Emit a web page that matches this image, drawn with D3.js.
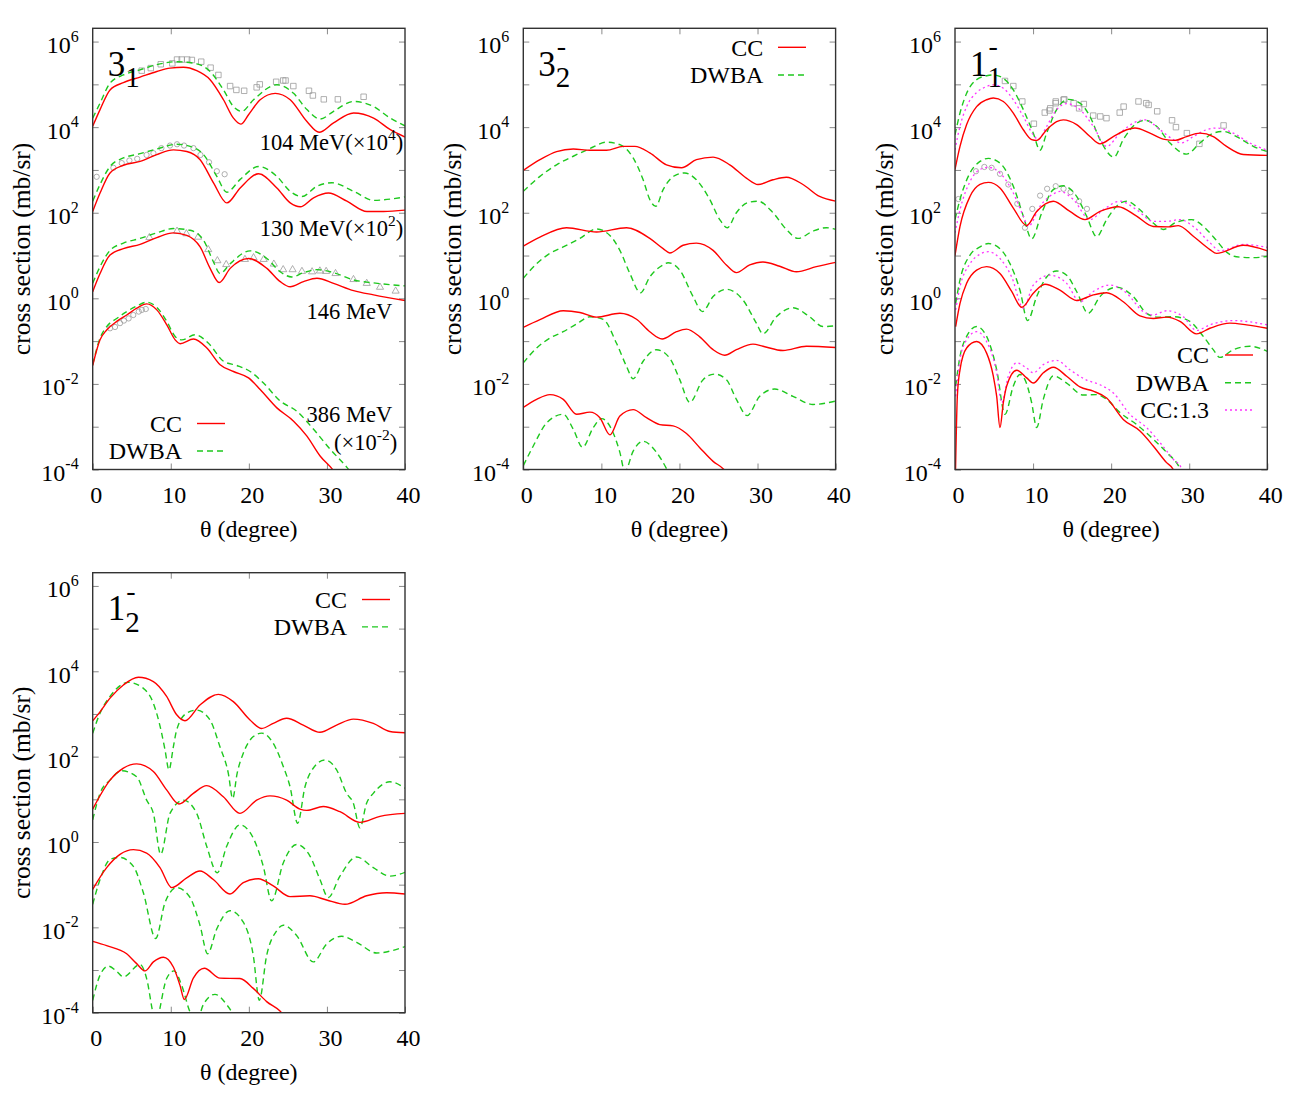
<!DOCTYPE html>
<html>
<head>
<meta charset="utf-8">
<script src="https://cdn.jsdelivr.net/npm/d3@7"></script>
<style>
  body { margin: 0; background: #fff; }
  svg { font-family: "Liberation Serif", "Times New Roman", serif; }
</style>
</head>
<body>
<div id="chart"></div>
<script>
// values are [theta (degree), log10 of cross section (mb/sr)]

// ---- 3_1^- ----
const s31_104_cc = [[0,4.02],[0.94,4.41],[2.22,4.87],[3.93,5.04],[6.07,5.17],[8.21,5.30],[9.91,5.38],[11.62,5.40],[13.33,5.32],[15.04,5.11],[16.75,4.64],[18.03,4.21],[18.97,4.07],[19.96,4.29],[21.45,4.64],[23.38,4.79],[25.3,4.64],[27.44,4.13],[29.0,3.88],[30.85,4.10],[33.42,4.33],[35.98,4.21],[38.12,3.94],[40,3.77]];
const s31_104_dw = [[0,4.21],[0.94,4.56],[2.22,5.03],[3.93,5.22],[6.07,5.34],[8.21,5.46],[10.77,5.53],[13.33,5.48],[15.04,5.30],[16.75,4.87],[18.03,4.48],[19.1,4.37],[20.6,4.64],[23.59,4.99],[25.73,4.79],[27.44,4.41],[29.15,4.19],[30.85,4.37],[33.42,4.60],[35.98,4.48],[38.12,4.21],[40,4.03]];
const s31_130_cc = [[0,2.03],[0.94,2.46],[2.22,2.93],[3.93,3.11],[6.07,3.20],[8.21,3.36],[10.34,3.47],[12.05,3.43],[13.76,3.24],[15.47,2.70],[17.18,2.23],[18.89,2.58],[21.24,2.91],[23.59,2.58],[25.3,2.23],[26.58,2.14],[28.29,2.35],[30.2,2.46],[32.56,2.27],[35.13,2.03],[37.26,2.03],[40,2.06]];
const s31_130_dw = [[0,2.27],[0.94,2.66],[2.22,3.08],[3.93,3.28],[6.07,3.38],[8.21,3.49],[10.77,3.60],[12.48,3.55],[14.19,3.36],[15.9,2.85],[17.18,2.48],[18.89,2.78],[21.24,3.08],[23.59,2.85],[25.3,2.50],[26.8,2.38],[28.72,2.62],[30.64,2.70],[33.42,2.50],[35.98,2.29],[40,2.37]];
const s31_146_cc = [[0,0.155],[0.94,0.58],[2.22,1.01],[3.93,1.16],[6.07,1.26],[8.21,1.42],[10.34,1.53],[12.05,1.47],[13.76,1.20],[15.04,0.70],[16.2,0.37],[17.61,0.70],[19.96,0.93],[22.31,0.70],[24.02,0.39],[25.3,0.27],[27.0,0.39],[28.72,0.47],[30.85,0.35],[33.42,0.18],[35.98,0.08],[40,-0.05]];
const s31_146_dw = [[0,0.35],[0.94,0.74],[2.22,1.12],[3.93,1.29],[6.07,1.40],[8.21,1.53],[10.34,1.63],[12.48,1.59],[14.19,1.36],[15.47,0.85],[16.32,0.58],[17.61,0.81],[20.17,1.11],[22.31,0.93],[24.02,0.62],[25.5,0.50],[27.0,0.60],[28.72,0.67],[30.85,0.60],[33.42,0.43],[35.98,0.36],[40,0.29]];
const s31_386_cc = [[0,-1.57],[0.94,-0.97],[1.79,-0.74],[3.08,-0.54],[4.36,-0.39],[5.64,-0.23],[6.92,-0.13],[8.21,-0.27],[9.49,-0.62],[10.56,-0.97],[11.2,-1.06],[12.91,-0.95],[14.62,-1.16],[16.32,-1.55],[18.03,-1.71],[19.96,-1.86],[21.45,-2.13],[23.59,-2.56],[25.73,-2.87],[27.44,-3.22],[29.15,-3.69],[30.64,-3.98],[32,-4.3]];
const s31_386_dw = [[0,-1.55],[0.94,-0.93],[1.79,-0.66],[3.08,-0.47],[4.36,-0.31],[5.64,-0.18],[6.92,-0.09],[8.21,-0.21],[9.49,-0.54],[10.56,-0.89],[11.41,-0.97],[13.12,-0.85],[14.83,-1.05],[16.75,-1.47],[18.46,-1.57],[20.17,-1.71],[21.88,-1.98],[24.02,-2.40],[26.15,-2.64],[28.29,-3.06],[30.43,-3.53],[32.56,-3.95],[34,-4.3]];
const exp31_104 = [[6.28,5.32],[7.44,5.38],[8.72,5.47],[10.2,5.49],[10.8,5.58],[11.4,5.58],[12.1,5.58],[12.7,5.57],[13.9,5.53],[15.1,5.39],[16.1,5.22],[17.6,4.96],[18.4,4.87],[19.4,4.85],[21.0,4.93],[21.4,5.00],[23.5,5.06],[24.4,5.09],[24.7,5.09],[25.7,4.96],[27.7,4.85],[28.2,4.74],[29.6,4.65],[31.4,4.65],[34.7,4.71]];
const exp31_130 = [[0.51,2.84],[2.65,3.05],[3.72,3.16],[4.7,3.22],[5.7,3.26],[6.9,3.35],[7.78,3.39],[8.8,3.51],[9.9,3.57],[10.8,3.60],[11.7,3.57],[12.9,3.51],[13.8,3.35],[14.9,3.18],[15.9,2.97],[16.9,2.90]];
const exp31_146 = [[7.26,1.42],[10.8,1.57],[12.0,1.51],[13.5,1.43],[14.8,1.14],[15.97,0.88],[17.1,0.79],[19.5,0.91],[20.6,0.95],[21.9,0.91],[23.2,0.80],[24.4,0.67],[25.6,0.67],[26.8,0.63],[28.1,0.62],[29.1,0.64],[29.9,0.63],[31.1,0.58],[33.4,0.44],[35.1,0.35],[36.8,0.26],[38.8,0.17]];
const exp31_386 = [[2.22,-0.70],[2.86,-0.67],[3.5,-0.58],[4.0,-0.52],[4.6,-0.47],[5.2,-0.39],[5.9,-0.31],[6.3,-0.27],[6.8,-0.25]];

// ---- 3_2^- ----
const s32_a_cc = [[0,2.99],[2.13,3.24],[4.26,3.43],[6.4,3.49],[8.53,3.46],[10.66,3.46],[12.79,3.55],[14.29,3.55],[16.2,3.40],[18.34,3.12],[20.26,3.05],[22.17,3.24],[24.31,3.30],[26.44,3.12],[28.57,2.81],[30.06,2.66],[31.98,2.77],[33.69,2.83],[35.82,2.66],[37.95,2.38],[40,2.27]];
const s32_a_dw = [[0,2.50],[2.13,2.85],[4.26,3.12],[6.4,3.32],[8.53,3.50],[10.66,3.65],[12.37,3.59],[14.07,3.28],[15.35,2.77],[16.2,2.31],[16.97,2.15],[17.91,2.54],[19.4,2.87],[20.68,2.93],[22.17,2.77],[23.88,2.31],[25.16,1.84],[26.14,1.65],[27.29,2.00],[28.78,2.24],[30.06,2.27],[31.98,2.00],[33.69,1.61],[35.18,1.40],[37.1,1.57],[38.81,1.65],[40,1.61]];
const s32_b_cc = [[0,1.22],[2.13,1.43],[5.54,1.65],[9.38,1.55],[13.22,1.65],[16.2,1.40],[17.91,1.16],[18.76,1.06],[20.47,1.24],[22.17,1.29],[24.31,1.12],[26.01,0.78],[27.29,0.60],[29.0,0.78],[30.7,0.85],[32.84,0.75],[34.97,0.62],[37.53,0.74],[40,0.84]];
const s32_b_dw = [[0,0.47],[1.71,0.81],[3.41,1.05],[5.12,1.20],[7.25,1.40],[9.38,1.62],[11.09,1.47],[12.37,1.12],[13.65,0.58],[15.01,0.13],[16.2,0.50],[17.91,0.78],[18.55,0.83],[20.04,0.66],[21.75,0.04],[22.94,-0.31],[24.31,0.04],[26.01,0.21],[28.14,-0.04],[29.85,-0.58],[30.7,-0.83],[32.41,-0.43],[34.54,-0.22],[36.67,-0.43],[38.38,-0.66],[40,-0.64]];
const s32_c_cc = [[0,-0.68],[2.13,-0.50],[5.12,-0.29],[7.25,-0.33],[9.38,-0.44],[12.37,-0.35],[14.5,-0.49],[16.2,-0.78],[17.78,-0.95],[19.62,-0.78],[20.9,-0.72],[22.6,-0.90],[24.31,-1.20],[25.8,-1.33],[27.29,-1.20],[29.42,-1.07],[30.7,-1.12],[33.26,-1.22],[36.25,-1.12],[40,-1.15]];
const s32_c_dw = [[0,-1.51],[1.71,-1.16],[3.41,-0.93],[5.12,-0.78],[6.82,-0.60],[8.53,-0.43],[10.23,-0.49],[11.94,-1.05],[13.22,-1.59],[14.07,-1.88],[15.35,-1.47],[17.06,-1.20],[18.76,-1.40],[20.04,-1.90],[21.32,-2.43],[23.03,-1.90],[24.52,-1.77],[26.01,-1.90],[27.29,-2.36],[28.66,-2.74],[30.28,-2.29],[32.2,-2.12],[34.54,-2.29],[37.1,-2.48],[40,-2.40]];
const s32_d_cc = [[0,-2.55],[1.71,-2.36],[3.41,-2.25],[5.12,-2.36],[6.82,-2.71],[8.53,-2.66],[9.81,-2.79],[11.09,-3.19],[12.37,-2.75],[14.07,-2.60],[15.78,-2.79],[17.48,-2.95],[19.19,-2.98],[20.9,-3.16],[22.6,-3.49],[24.31,-3.81],[25.59,-3.98],[27,-4.3]];
const s32_d_dw = [[0,-3.91],[1.28,-3.45],[2.99,-2.91],[5.12,-2.71],[6.4,-3.06],[7.59,-3.48],[8.96,-3.02],[10.02,-2.81],[11.3,-3.06],[12.37,-3.60],[13.01,-4.05],[14.07,-3.57],[15.35,-3.34],[17.06,-3.60],[18.34,-3.98],[19.19,-4.3]];

// ---- 1_1^- ----
const s11_a_cc = [[0,3.01],[0.64,3.55],[1.49,4.06],[2.77,4.48],[4.05,4.64],[4.91,4.68],[6.19,4.60],[7.47,4.33],[8.75,3.94],[9.82,3.71],[10.46,3.69],[11.74,3.94],[13.02,4.13],[13.87,4.17],[15.58,4.06],[17.29,3.78],[18.57,3.61],[20.27,3.78],[21.98,3.94],[23.05,3.98],[24.97,3.86],[26.67,3.72],[28.17,3.69],[29.66,3.78],[31.37,3.86],[33.08,3.78],[34.78,3.55],[36.92,3.36],[40,3.34]];
const s11_a_dw = [[0,3.82],[0.64,4.33],[1.49,4.79],[2.77,5.11],[4.05,5.20],[4.91,5.22],[6.19,5.14],[7.47,4.87],[8.75,4.41],[10.03,3.86],[10.88,3.46],[11.74,3.86],[13.02,4.41],[14.51,4.65],[16.0,4.56],[17.29,4.25],[18.57,3.71],[20.36,3.30],[21.55,3.71],[23.26,4.09],[24.33,4.16],[25.82,4.02],[27.53,3.63],[29.66,3.37],[31.37,3.63],[33.08,3.86],[34.36,3.90],[36.06,3.78],[38.2,3.55],[40,3.43]];
const s11_a_cc13 = [[0,3.47],[0.64,4.02],[1.49,4.48],[2.77,4.81],[4.05,4.95],[4.91,4.99],[6.19,4.91],[7.47,4.64],[8.75,4.25],[10.03,3.82],[10.67,3.71],[11.74,4.02],[13.02,4.41],[14.3,4.55],[16.0,4.41],[17.71,4.02],[19.42,3.55],[21.13,3.86],[23.26,4.13],[24.33,4.17],[26.25,3.94],[27.96,3.71],[29.02,3.63],[30.52,3.78],[32.22,3.94],[33.5,3.98],[35.64,3.86],[37.77,3.63],[40,3.46]];
const s11_b_cc = [[0,1.0],[0.64,1.68],[1.92,2.38],[3.2,2.66],[4.27,2.71],[5.76,2.58],[7.47,2.11],[9.18,1.70],[10.46,2.03],[12.59,2.27],[14.72,2.03],[16.65,1.84],[18.57,2.03],[20.91,2.14],[23.26,1.92],[25.39,1.68],[27.32,1.67],[28.6,1.70],[30.52,1.45],[32.65,1.14],[33.5,1.05],[36.92,1.24],[40,1.11]];
const s11_b_dw = [[0,1.84],[0.64,2.31],[1.92,2.93],[3.2,3.20],[4.27,3.27],[5.76,3.16],[7.47,2.62],[8.75,1.92],[9.82,1.39],[11.1,1.99],[12.59,2.54],[13.87,2.63],[15.58,2.38],[16.86,1.92],[18.14,1.44],[19.42,1.84],[20.91,2.19],[21.98,2.27],[23.69,2.07],[25.39,1.76],[26.67,1.61],[28.38,1.78],[30.3,1.84],[32.22,1.61],[33.5,1.35],[34.78,1.08],[36.06,0.97],[38.2,0.95],[40,0.98]];
const s11_b_cc13 = [[0,1.53],[0.64,2.07],[1.92,2.73],[3.2,3.01],[4.27,3.06],[5.76,2.93],[7.47,2.46],[8.75,1.92],[9.39,1.68],[10.88,2.15],[12.8,2.46],[13.44,2.50],[15.15,2.31],[17.29,1.84],[18.99,2.07],[21.13,2.27],[23.26,2.07],[25.39,1.80],[27.1,1.80],[28.81,1.84],[30.52,1.68],[32.65,1.30],[33.93,1.11],[36.92,1.26],[40,1.19]];
const s11_c_cc = [[0.085,-0.66],[0.64,-0.12],[1.49,0.35],[2.77,0.66],[4.05,0.74],[5.76,0.58],[7.26,0.16],[8.54,-0.21],[10.03,0.12],[11.52,0.33],[13.44,0.19],[15.58,-0.05],[17.71,0.08],[19.42,0.13],[21.55,-0.08],[23.69,-0.41],[25.39,-0.47],[27.1,-0.44],[28.81,-0.54],[30.94,-0.83],[32.65,-0.70],[35.21,-0.58],[37.34,-0.62],[40,-0.70]];
const s11_c_dw = [[0.085,-0.12],[0.64,0.43],[1.92,1.01],[3.2,1.20],[4.27,1.28],[5.76,1.16],[7.04,0.81],[8.32,0.19],[9.3,-0.52],[10.46,0.04],[11.74,0.50],[13.02,0.64],[14.3,0.54],[15.58,0.16],[17.07,-0.35],[18.57,0.04],[20.7,0.26],[22.84,0.04],[24.54,-0.35],[26.03,-0.44],[27.96,-0.43],[30.09,-0.54],[31.8,-0.89],[33.08,-1.20],[33.93,-1.38],[35.64,-1.20],[37.77,-1.12],[40,-1.24]];
const s11_c_cc13 = [[0.085,-0.27],[0.64,0.27],[1.92,0.81],[3.2,1.03],[4.27,1.09],[5.76,0.93],[7.26,0.50],[8.75,-0.23],[10.03,0.31],[12.16,0.54],[14.3,0.35],[16.0,-0.08],[17.71,0.16],[19.84,0.31],[21.98,0.12],[24.11,-0.31],[25.39,-0.39],[27.1,-0.29],[29.24,-0.43],[30.94,-0.75],[32.65,-0.62],[35.64,-0.52],[40,-0.62]];
const s11_d_cc = [[0.04,-4.3],[0.3,-2.29],[0.64,-1.67],[1.49,-1.16],[2.77,-1.01],[4.05,-1.28],[4.91,-1.82],[5.34,-2.29],[5.76,-3.02],[6.19,-2.44],[6.62,-2.05],[7.9,-1.68],[9.18,-1.86],[10.03,-1.98],[11.31,-1.74],[12.59,-1.61],[14.3,-1.82],[16.0,-2.07],[17.71,-2.17],[19.42,-2.33],[21.55,-2.83],[23.69,-3.10],[25.39,-3.45],[27.1,-3.84],[27.96,-4.0],[28.5,-4.3]];
const s11_d_dw = [[0.085,-2.05],[0.64,-1.36],[1.49,-0.89],[2.77,-0.66],[4.05,-0.89],[5.34,-1.67],[6.4,-2.71],[7.47,-2.05],[8.32,-1.78],[8.96,-1.90],[9.82,-2.44],[10.46,-3.02],[11.31,-2.36],[12.59,-1.81],[14.3,-1.98],[16.43,-2.26],[18.14,-2.25],[19.42,-2.36],[21.13,-2.67],[23.26,-2.95],[25.39,-3.29],[27.1,-3.60],[28.81,-3.98],[29.5,-4.3]];
const s11_d_cc13 = [[0.085,-2.29],[0.64,-1.43],[1.49,-0.97],[2.77,-0.78],[4.05,-1.01],[5.34,-1.74],[5.98,-2.44],[6.83,-1.82],[7.9,-1.51],[9.18,-1.63],[10.03,-1.74],[11.31,-1.55],[13.02,-1.45],[14.72,-1.67],[16.86,-1.91],[18.57,-2.02],[20.27,-2.21],[22.41,-2.71],[24.54,-3.02],[26.25,-3.37],[27.96,-3.76],[29.02,-3.98],[29.6,-4.3]];
const exp11_a = [[6.40,5.08],[7.47,4.96],[8.62,4.60],[10.1,4.08],[11.5,4.34],[12.1,4.39],[12.2,4.44],[12.9,4.56],[12.9,4.60],[13.9,4.64],[14.0,4.65],[15.2,4.56],[15.9,4.44],[16.5,4.54],[17.7,4.27],[18.6,4.25],[19.4,4.21],[21.1,4.34],[21.6,4.48],[23.5,4.60],[24.5,4.56],[24.8,4.52],[25.9,4.37],[27.8,4.16],[28.3,4.00],[29.7,3.86],[31.3,3.61],[34.4,4.04]];
const exp11_b = [[0.43,2.32],[2.69,2.97],[3.76,3.07],[4.69,3.05],[5.76,2.91],[6.83,2.66],[7.98,2.21],[8.96,1.65],[9.9,2.09],[10.9,2.40],[11.8,2.56],[12.9,2.62],[13.9,2.56],[14.8,2.48],[15.9,2.27],[16.9,2.09]];

// ---- 1_2^- ----
const s12_a_cc = [[0,2.84],[0.94,3.05],[2.22,3.37],[3.93,3.68],[5.85,3.86],[7.77,3.76],[9.47,3.41],[10.76,2.98],[11.82,2.84],[13.74,3.21],[16.09,3.46],[18.01,3.29],[20.15,2.86],[21.64,2.66],[23.13,2.78],[24.84,2.90],[26.97,2.74],[29.11,2.57],[31.24,2.74],[33.38,2.88],[35.94,2.78],[38.07,2.59],[40,2.56]];
const s12_a_dw = [[0,2.55],[0.94,3.02],[2.22,3.41],[4.57,3.74],[6.49,3.60],[7.77,3.25],[8.83,2.55],[9.26,2.16],[9.77,1.69],[10.33,2.23],[10.76,2.63],[12.04,3.02],[13.32,3.09],[15.02,2.86],[16.3,2.23],[17.37,1.61],[17.93,1.02],[18.5,1.61],[19.29,2.08],[20.57,2.47],[21.64,2.55],[23.13,2.31],[24.41,1.77],[25.27,1.30],[26.25,0.44],[27.2,1.30],[27.83,1.61],[29.75,1.92],[31.24,1.69],[32.52,1.14],[33.38,0.91],[34.23,0.33],[35.08,0.91],[35.94,1.14],[38.07,1.41],[40,1.26]];
const s12_b_cc = [[0,0.77],[2.22,1.45],[3.93,1.73],[5.63,1.83],[7.77,1.65],[9.47,1.22],[11.05,0.89],[12.89,1.14],[14.6,1.32],[16.73,1.06],[18.86,0.67],[21.0,0.98],[22.71,1.08],[24.84,0.98],[26.55,0.77],[27.4,0.74],[29.53,0.83],[31.67,0.71],[34.23,0.46],[36.79,0.60],[40,0.67]];
const s12_b_dw = [[0,0.52],[0.94,1.14],[2.22,1.45],[3.71,1.67],[5.63,1.53],[6.91,0.98],[7.77,0.67],[8.71,-0.29],[9.9,0.67],[11.61,0.98],[13.32,0.67],[14.6,-0.10],[15.96,-0.72],[17.16,-0.10],[18.86,0.40],[20.57,0.09],[21.85,-0.57],[22.92,-1.38],[24.41,-0.49],[26.12,-0.06],[27.83,-0.33],[29.11,-0.88],[30.17,-1.30],[31.67,-0.80],[33.8,-0.35],[35.94,-0.60],[38.07,-0.80],[40,-0.71]];
const s12_c_cc = [[0,-1.11],[1.79,-0.60],[3.5,-0.29],[5.21,-0.18],[6.91,-0.26],[8.62,-0.60],[10.12,-1.07],[12.04,-0.84],[13.74,-0.68],[15.45,-0.88],[17.58,-1.22],[19.29,-0.95],[21.21,-0.86],[23.13,-1.03],[25.27,-1.28],[27.83,-1.26],[29.96,-1.36],[32.31,-1.46],[35.08,-1.26],[37.64,-1.19],[40,-1.22]];
const s12_c_dw = [[0,-1.46],[0.94,-0.88],[2.22,-0.41],[3.41,-0.36],[5.21,-0.57],[6.49,-1.19],[8.07,-2.26],[9.26,-1.42],[10.76,-1.07],[12.46,-1.30],[13.74,-1.95],[14.72,-2.62],[15.88,-2.04],[17.58,-1.61],[19.29,-1.88],[20.57,-2.66],[21.34,-3.71],[22.28,-2.66],[23.56,-2.08],[24.41,-1.95],[26.12,-2.19],[28.25,-2.81],[29.96,-2.39],[31.88,-2.21],[33.8,-2.35],[36.36,-2.60],[40,-2.45]];
const s12_d_cc = [[0,-2.33],[1.79,-2.43],[4.35,-2.62],[5.63,-2.85],[6.7,-3.02],[7.77,-2.81],[9.05,-2.70],[10.33,-2.93],[11.18,-3.36],[11.74,-3.69],[12.89,-3.19],[14.3,-2.96],[16.3,-3.19],[18.86,-3.20],[20.57,-3.43],[22.28,-3.74],[23.99,-3.96],[25.5,-4.3]];
const s12_d_dw = [[0,-3.71],[0.94,-3.12],[2.01,-2.91],[3.07,-3.03],[3.93,-3.16],[6.06,-2.87],[6.91,-3.20],[7.77,-4.05],[8.19,-4.3],[8.62,-3.89],[9.47,-3.20],[10.41,-3.02],[11.4,-3.36],[12.46,-3.98],[13.32,-4.2],[14.17,-3.81],[15.66,-3.57],[17.16,-3.81],[18.01,-4.05],[18.6,-4.3]];

const xTicks = [0, 10, 20, 30, 40];
const yDecades = [-4, -3, -2, -1, 0, 1, 2, 3, 4, 5, 6];
const yLabelExps = [-4, -2, 0, 2, 4, 6];

const W = 1313, H = 1094;
const pw = 312.3;
const topLog = 6.31;

const style = {
  cc:   { color: "#ff0000", dash: null,  width: 1.4, name: "CC" },
  dw:   { color: "#1ec81e", dash: "6,4", width: 1.4, name: "DWBA" },
  cc13: { color: "#ff33ff", dash: "2,3", width: 1.3, name: "CC:1.3" }
};

const panels = [
  { left: 92.7, top: 28.3, h: 441.2, main: "3", sub: "1",
    curves: [["dw", s31_104_dw], ["cc", s31_104_cc], ["dw", s31_130_dw], ["cc", s31_130_cc],
             ["dw", s31_146_dw], ["cc", s31_146_cc], ["dw", s31_386_dw], ["cc", s31_386_cc]],
    points: [["square", exp31_104], ["circle", exp31_130], ["triangle", exp31_146], ["circle", exp31_386]],
    legend: { textX: 89.3, lineX: 104.3, ys: [395.2, 422.7], keys: ["cc", "dw"] } },
  { left: 523.3, top: 28.3, h: 441.2, main: "3", sub: "2",
    curves: [["dw", s32_a_dw], ["cc", s32_a_cc], ["dw", s32_b_dw], ["cc", s32_b_cc],
             ["dw", s32_c_dw], ["cc", s32_c_cc], ["dw", s32_d_dw], ["cc", s32_d_cc]],
    points: [],
    legend: { textX: 240, lineX: 254.7, ys: [19, 46.7], keys: ["cc", "dw"] } },
  { left: 955, top: 28.3, h: 441.2, main: "1", sub: "1",
    curves: [["dw", s11_a_dw], ["cc13", s11_a_cc13], ["cc", s11_a_cc],
             ["dw", s11_b_dw], ["cc13", s11_b_cc13], ["cc", s11_b_cc],
             ["dw", s11_c_dw], ["cc13", s11_c_cc13], ["cc", s11_c_cc],
             ["dw", s11_d_dw], ["cc13", s11_d_cc13], ["cc", s11_d_cc]],
    points: [["square", exp11_a], ["circle", exp11_b]],
    legend: { textX: 254, lineX: 270, ys: [326.7, 354.4, 381.7], keys: ["cc", "dw", "cc13"] } },
  { left: 92.7, top: 572.7, h: 440, main: "1", sub: "2",
    curves: [["dw", s12_a_dw], ["cc", s12_a_cc], ["dw", s12_b_dw], ["cc", s12_b_cc],
             ["dw", s12_c_dw], ["cc", s12_c_cc], ["dw", s12_d_dw], ["cc", s12_d_cc]],
    points: [],
    legend: { textX: 254.3, lineX: 269.3, ys: [26.8, 54.2], keys: ["cc", "dw"] } }
];

const svg = d3.select("#chart").append("svg")
  .attr("width", W).attr("height", H)
  .style("background", "#fff");

panels.forEach((p, pi) => {
  const g = svg.append("g").attr("transform", `translate(${p.left},${p.top})`);
  const x = d3.scaleLinear().domain([0, 40]).range([0, pw]);
  const y = d3.scaleLog().domain([1e-4, Math.pow(10, topLog)]).range([p.h, 0]);

  // clip area for curves
  g.append("clipPath").attr("id", "clip" + pi)
    .append("rect").attr("width", pw).attr("height", p.h);

  // ticks, all inside the frame
  const yTickVals = yDecades.map(e => Math.pow(10, e));
  const tickStyle = sel => {
    sel.select(".domain").remove();
    sel.selectAll(".tick line").attr("stroke", "#8a8a8a");
  };
  g.append("g").call(d3.axisLeft(y).tickValues(yTickVals).tickSizeInner(-6).tickSizeOuter(0).tickFormat(""))
    .call(tickStyle);
  g.append("g").attr("transform", `translate(${pw},0)`)
    .call(d3.axisRight(y).tickValues(yTickVals).tickSizeInner(-6).tickSizeOuter(0).tickFormat(""))
    .call(tickStyle);
  g.append("g").attr("transform", `translate(0,${p.h})`)
    .call(d3.axisBottom(x).tickValues(xTicks).tickSizeInner(-6).tickSizeOuter(0).tickPadding(16))
    .call(tickStyle)
    .call(s => s.selectAll(".tick text")
      .attr("font-family", "Liberation Serif, serif").attr("font-size", 24)
      .attr("fill", "#000").attr("dx", 3));
  g.append("g")
    .call(d3.axisTop(x).tickValues(xTicks.slice(1, 4)).tickSizeInner(-6).tickSizeOuter(0).tickFormat(""))
    .call(tickStyle);

  // y tick labels 10^n
  yLabelExps.forEach(e => {
    const t = g.append("text")
      .attr("x", -14).attr("y", y(Math.pow(10, e)) + 11.5)
      .attr("text-anchor", "end").attr("font-size", 24).attr("fill", "#000");
    t.append("tspan").text("10");
    t.append("tspan").attr("dy", -11.5).attr("font-size", 16).text(String(e));
  });

  // axis titles
  g.append("text")
    .attr("transform", `translate(-62.5,${p.h / 2}) rotate(-90)`)
    .attr("text-anchor", "middle").attr("font-size", 25.5).attr("fill", "#000")
    .text("cross section (mb/sr)");
  g.append("text")
    .attr("x", pw / 2).attr("y", p.h + 67.5)
    .attr("text-anchor", "middle").attr("font-size", 24).attr("fill", "#000")
    .text("θ (degree)");

  const plot = g.append("g").attr("clip-path", `url(#clip${pi})`);

  // experimental points
  p.points.forEach(([shape, arr]) => {
    const sym = shape === "square" ? d3.symbolSquare : shape === "triangle" ? d3.symbolTriangle : d3.symbolCircle;
    const size = shape === "square" ? 30 : 22;
    plot.append("g").selectAll("path").data(arr).join("path")
      .attr("d", d3.symbol().type(sym).size(size))
      .attr("transform", d => `translate(${x(d[0])},${y(Math.pow(10, d[1]))})`)
      .attr("fill", "none").attr("stroke", "#9a9a9a").attr("stroke-width", 0.8);
  });

  // theory curves
  const line = d3.line()
    .x(d => x(d[0]))
    .y(d => y(Math.pow(10, d[1])))
    .curve(d3.curveMonotoneX);
  p.curves.forEach(([kind, arr]) => {
    const s = style[kind];
    plot.append("path").datum(arr)
      .attr("d", line)
      .attr("fill", "none")
      .attr("stroke", s.color)
      .attr("stroke-width", s.width)
      .attr("stroke-dasharray", s.dash);
  });

  // frame
  g.append("rect").attr("width", pw).attr("height", p.h)
    .attr("fill", "none").attr("stroke", "#333").attr("stroke-width", 1.4);

  // state label
  const lab = g.append("text").attr("x", 15).attr("y", 47.5)
    .attr("font-size", 35).attr("fill", "#000").text(p.main);
  const lw = lab.node().getComputedTextLength();
  g.append("text").attr("x", 15 + lw).attr("y", 59)
    .attr("font-size", 29).attr("fill", "#000").text(p.sub);
  g.append("text").attr("x", 15 + lw + 1).attr("y", 27)
    .attr("font-size", 28).attr("fill", "#000").text("-");

  // legend
  const L = p.legend;
  L.keys.forEach((k, i) => {
    const s = style[k];
    g.append("text").attr("x", L.textX).attr("y", L.ys[i] + 8.5)
      .attr("text-anchor", "end").attr("font-size", 24).attr("fill", "#000").text(s.name);
    g.append("line").attr("x1", L.lineX).attr("x2", L.lineX + 28)
      .attr("y1", L.ys[i]).attr("y2", L.ys[i])
      .attr("stroke", s.color).attr("stroke-width", s.width)
      .attr("stroke-dasharray", s.dash);
  });

  // energy labels (first panel only)
  if (pi === 0) {
    const energy = [
      { t: "104 MeV(×10", e: "4", close: ")", x: 310.5, y: 121.7 },
      { t: "130 MeV(×10", e: "2", close: ")", x: 310.5, y: 207.7 },
      { t: "146 MeV", e: null, close: "", x: 299.5, y: 290.7 },
      { t: "386 MeV", e: null, close: "", x: 299.5, y: 393.7 },
      { t: "(×10", e: "-2", close: ")", x: 304.5, y: 421.7 }
    ];
    energy.forEach(d => {
      const t = g.append("text").attr("x", d.x).attr("y", d.y)
        .attr("text-anchor", "end").attr("font-size", 22.5).attr("fill", "#000");
      t.append("tspan").text(d.t);
      if (d.e) {
        t.append("tspan").attr("dy", -10).attr("font-size", 15.5).text(d.e);
        t.append("tspan").attr("dy", 10).text(d.close);
      }
    });
  }
});
</script>
</body>
</html>
